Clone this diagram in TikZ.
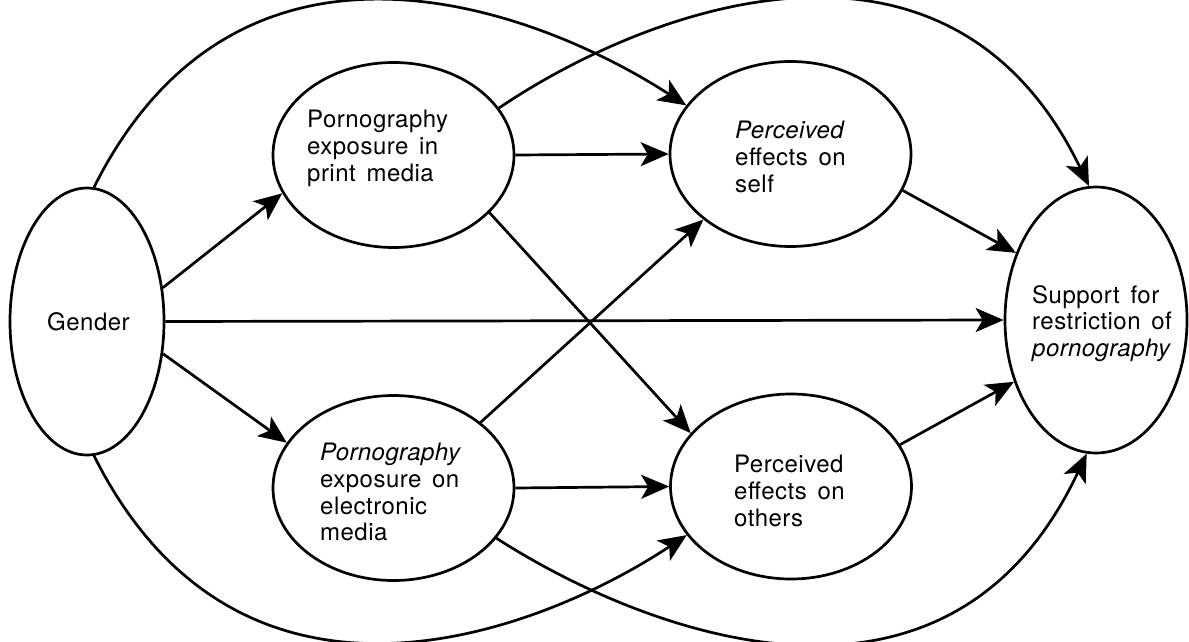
\documentclass[tikz,border=0pt]{standalone}
\usepackage{fontspec}
\setmainfont{TeX Gyre Heros}[LetterSpace=2,WordSpace=1.5]
\usetikzlibrary{arrows.meta,shapes.geometric}
\begin{document}
\begin{tikzpicture}[x=1pt,y=-1pt,
  oval/.style={ellipse, draw, line width=2.7pt, inner sep=0pt},
  mid/.style={oval, minimum width=241pt, minimum height=185pt},
  lab/.style={anchor=north west, inner sep=0pt, align=left, font=\fontsize{24}{26.7}\selectfont},
  conn/.style={line width=2.7pt, -{Stealth[length=28pt,width=24pt,inset=7pt]}}]
\useasboundingbox (0,0) rectangle (1189,642);
% ellipses
\node[oval, minimum width=154pt, minimum height=267pt] (gender) at (87,321.5) {};
\node[mid] (print) at (393.5,155) {};
\node[mid] (elec) at (393.5,488) {};
\node[mid] (self) at (790.5,154) {};
\node[mid] (others) at (791,486.5) {};
\node[oval, minimum width=182pt, minimum height=266pt] (support) at (1096,320) {};
% labels
\node[lab] (tgender) at (47,312) {Gender};
\node[lab] (tprint) at (307,110) {Pornography\\exposure in\\print media};
\node[lab] (telec) at (320,443) {\itshape Pornography\\exposure on\\electronic\\media};
\node[lab] (tself) at (735,121) {\itshape Perceived\\effects on\\self};
\node[lab] (tothers) at (734,455) {Perceived\\effects on\\others};
\node[lab] (tsupport) at (1032,285) {Support for\\restriction of\\{\itshape pornography}};
% straight connectors
\draw[conn] (gender.24) -- (print.199);
\draw[conn] (gender.-23) -- (elec.157.5);
\draw[conn] (gender.east) -- (support.west);
\draw[conn] (print.east) -- (self.west);
\draw[conn] (elec.east) -- (others.west);
\draw[conn] (print.-31) -- (others.152.6);
\draw[conn] (elec.37) -- (self.217.4);
\draw[conn] (self.-18.4) -- (support.140);
\draw[conn] (others.21.8) -- (support.217.9);
% curved connectors
\draw[conn] (gender.87) .. controls (240,-104) and (536,8) .. (self.155.5);
\draw[conn] (print.24.4) .. controls (642,11) and (947,-108) .. (support.93.4);
\draw[conn] (gender.-87) .. controls (240,747) and (536,635) .. (others.205.9);
\draw[conn] (elec.-26.2) .. controls (642,632) and (947,751) .. (support.266.6);
\end{tikzpicture}
\end{document}
